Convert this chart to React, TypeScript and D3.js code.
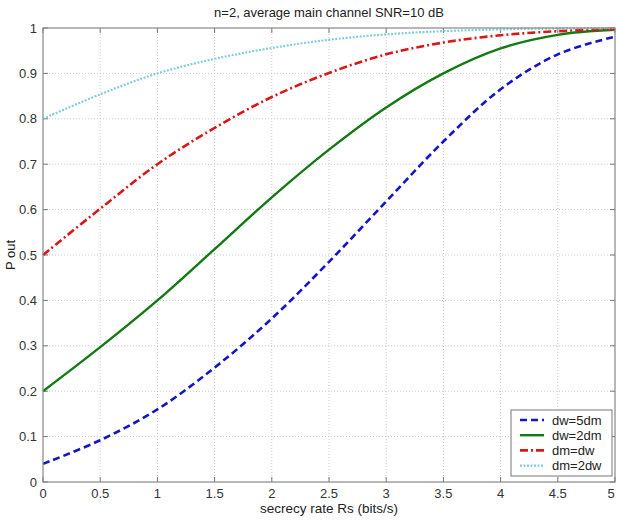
import React from "react";
import * as d3 from "d3";

const rates = [0, 0.5, 1, 1.5, 2, 2.5, 3, 3.5, 4, 4.5, 5];
const dw5dm = [0.04, 0.092, 0.16, 0.252, 0.36, 0.485, 0.618, 0.75, 0.865, 0.942, 0.981];
const dw2dm = [0.2, 0.297, 0.4, 0.513, 0.627, 0.732, 0.825, 0.9, 0.955, 0.985, 0.996];
const dmdw = [0.5, 0.602, 0.7, 0.78, 0.848, 0.901, 0.942, 0.968, 0.984, 0.993, 0.998];
const dm2dw = [0.8, 0.854, 0.9, 0.932, 0.956, 0.974, 0.986, 0.993, 0.997, 0.999, 1.0];
const seriesNames = ["dw=5dm", "dw=2dm", "dm=dw", "dm=2dw"];
const xTicks = [0, 0.5, 1, 1.5, 2, 2.5, 3, 3.5, 4, 4.5, 5];
const yTicks = [0, 0.1, 0.2, 0.3, 0.4, 0.5, 0.6, 0.7, 0.8, 0.9, 1];

const styles = [
  { color: "#1515c8", width: 2.6, dash: "7,4" },
  { color: "#137a13", width: 2.4, dash: "" },
  { color: "#d81818", width: 2.6, dash: "8,3,2,3" },
  { color: "#7fcfd8", width: 2.2, dash: "2,1.5" },
];

export default function App() {
  const W = 617, H = 520;
  const L = 43, R = 615, T = 28, B = 482;
  const x = d3.scaleLinear().domain([0, 5]).range([L, R]);
  const y = d3.scaleLinear().domain([0, 1]).range([B, T]);
  const data = [dw5dm, dw2dm, dmdw, dm2dw];
  const line = d3
    .line<number>()
    .x((_, i) => x(rates[i]))
    .y((d) => y(d))
    .curve(d3.curveCatmullRom.alpha(0.5));
  const font = "Liberation Sans, Arial, sans-serif";
  const lgX = 511, lgY = 410, lgW = 101, lgH = 66;
  return (
    <svg width={W} height={H} style={{ position: "absolute", left: 0, top: 0, background: "#fff" }} fontFamily={font}>
      <rect x={0} y={0} width={W} height={H} fill="#fff" />
      {xTicks.slice(1, -1).map((t) => (
        <line key={"gx" + t} x1={x(t)} x2={x(t)} y1={T} y2={B} stroke="#c8c8c8" strokeWidth={1} strokeDasharray="1,2" />
      ))}
      {yTicks.slice(1, -1).map((t) => (
        <line key={"gy" + t} x1={L} x2={R} y1={y(t)} y2={y(t)} stroke="#c8c8c8" strokeWidth={1} strokeDasharray="1,2" />
      ))}
      {xTicks.map((t, i) => (
        <g key={"tx" + t}>
          <line x1={x(t)} x2={x(t)} y1={B} y2={B - 5} stroke="#777" />
          <line x1={x(t)} x2={x(t)} y1={T} y2={T + 5} stroke="#777" />
          <text x={i === xTicks.length - 1 ? Math.min(x(t), 611) : x(t)} y={498} textAnchor="middle" fontSize={13} fill="#333">{String(t)}</text>
        </g>
      ))}
      {yTicks.map((t) => (
        <g key={"ty" + t}>
          <line x1={L} x2={L + 5} y1={y(t)} y2={y(t)} stroke="#777" />
          <line x1={R} x2={R - 5} y1={y(t)} y2={y(t)} stroke="#777" />
          <text x={37} y={y(t) + 4.5} textAnchor="end" fontSize={13} fill="#333">{String(t)}</text>
        </g>
      ))}
      {data.map((d, i) => (
        <path key={"s" + i} d={line(d) || ""} fill="none" stroke={styles[i].color} strokeWidth={styles[i].width}
          strokeDasharray={styles[i].dash || undefined} />
      ))}
      <rect x={L} y={T} width={R - L} height={B - T} fill="none" stroke="#888" strokeWidth={1.2} />
      <rect x={lgX} y={lgY} width={lgW} height={lgH} fill="#fff" stroke="#777" strokeWidth={1} />
      {seriesNames.map((n, i) => {
        const yy = lgY + 10 + i * 15.2;
        return (
          <g key={"lg" + i}>
            <line x1={lgX + 9} x2={lgX + 33} y1={yy} y2={yy} stroke={styles[i].color} strokeWidth={styles[i].width}
              strokeDasharray={styles[i].dash || undefined} />
            <text x={lgX + 41} y={yy + 4.5} fontSize={13} fill="#222">{n}</text>
          </g>
        );
      })}
      <text x={(L + R) / 2} y={17} textAnchor="middle" fontSize={13} fill="#222">n=2, average main channel SNR=10 dB</text>
      <text x={(L + R) / 2} y={513} textAnchor="middle" fontSize={13.5} fill="#222">secrecy rate Rs (bits/s)</text>
      <text transform={`translate(15,${(T + B) / 2}) rotate(-90)`} textAnchor="middle" fontSize={13} fill="#222">P out</text>
    </svg>
  );
}
